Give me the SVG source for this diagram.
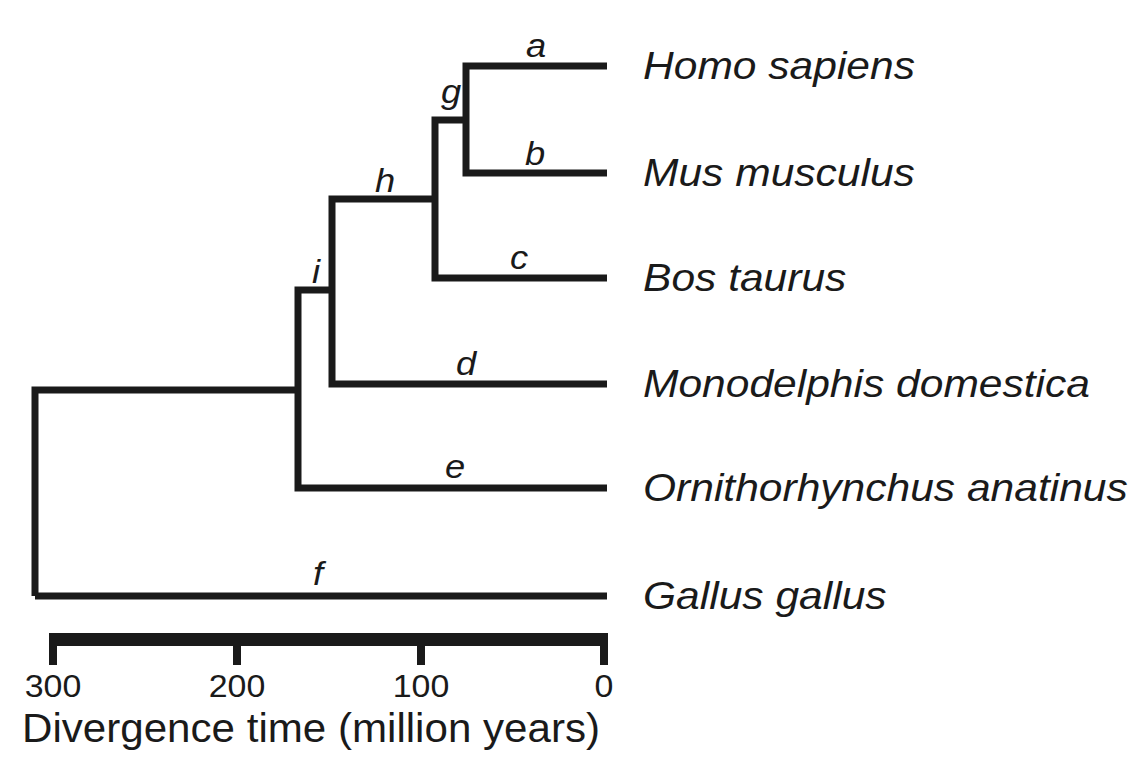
<svg xmlns="http://www.w3.org/2000/svg" width="1136" height="760" viewBox="0 0 1136 760">
  <style>
    .tree { fill: none; stroke: #1a1a1a; stroke-width: 7; stroke-linejoin: miter; stroke-linecap: butt; }
    .sp { font-family: "Liberation Sans", Arial, sans-serif; font-style: italic; font-size: 38px; fill: #1a1a1a; }
    .bl { font-family: "Liberation Sans", Arial, sans-serif; font-style: italic; font-size: 33px; fill: #1a1a1a; text-anchor: middle; }
    .tick { font-family: "Liberation Sans", Arial, sans-serif; font-size: 32px; fill: #1a1a1a; text-anchor: middle; }
    .title { font-family: "Liberation Sans", Arial, sans-serif; font-size: 40px; fill: #1a1a1a; }
    .ax { fill: #1a1a1a; }
  </style>
  <rect x="0" y="0" width="1136" height="760" fill="#ffffff"/>

  <g id="connectors">
    <path class="tree" d="M35,596 H607"/>
    <path class="tree" d="M35,596 V390 H298"/>
    <path class="tree" d="M607,488 H298 V290 H332"/>
    <path class="tree" d="M607,384 H332 V199 H435"/>
    <path class="tree" d="M607,278 H435 V120 H466"/>
    <path class="tree" d="M607,173 H466 V66 H607"/>
  </g>

  <g id="branch-labels">
    <g id="label-a"><text class="bl" transform="translate(536,57) scale(1.1,1)">a</text></g>
    <g id="label-b"><text class="bl" transform="translate(535,165) scale(1.1,1)">b</text></g>
    <g id="label-c"><text class="bl" transform="translate(519,269) scale(1.1,1)">c</text></g>
    <g id="label-d"><text class="bl" transform="translate(466,375) scale(1.1,1)">d</text></g>
    <g id="label-e"><text class="bl" transform="translate(455,478) scale(1.1,1)">e</text></g>
    <g id="label-f"><text class="bl" transform="translate(318,585) scale(1.1,1)">f</text></g>
    <g id="label-g"><text class="bl" transform="translate(451,103) scale(1.1,1)">g</text></g>
    <g id="label-h"><text class="bl" transform="translate(385,192) scale(1.1,1)">h</text></g>
    <g id="label-i"><text class="bl" transform="translate(316,283) scale(1.1,1)">i</text></g>
  </g>

  <g id="taxon-homo"><text class="sp" transform="translate(643,79) scale(1.12,1)">Homo sapiens</text></g>
  <g id="taxon-mus"><text class="sp" transform="translate(643,186) scale(1.12,1)">Mus musculus</text></g>
  <g id="taxon-bos"><text class="sp" transform="translate(643,291) scale(1.12,1)">Bos taurus</text></g>
  <g id="taxon-monodelphis"><text class="sp" transform="translate(643,397) scale(1.12,1)">Monodelphis domestica</text></g>
  <g id="taxon-ornithorhynchus"><text class="sp" transform="translate(643,501) scale(1.12,1)">Ornithorhynchus anatinus</text></g>
  <g id="taxon-gallus"><text class="sp" transform="translate(643,609) scale(1.12,1)">Gallus gallus</text></g>

  <g id="axis">
    <rect class="ax" x="49" y="633" width="559" height="13"/>
    <rect class="ax" x="49" y="640" width="8" height="25"/>
    <rect class="ax" x="233" y="640" width="8" height="25"/>
    <rect class="ax" x="417" y="640" width="8" height="25"/>
    <rect class="ax" x="600" y="640" width="8" height="25"/>
    <text class="tick" transform="translate(53,697) scale(1.06,1)">300</text>
    <text class="tick" transform="translate(237,697) scale(1.06,1)">200</text>
    <text class="tick" transform="translate(421,697) scale(1.06,1)">100</text>
    <text class="tick" transform="translate(604,697) scale(1.06,1)">0</text>
    <text class="title" transform="translate(22,742) scale(1.053,1)">Divergence time (million years)</text>
  </g>
</svg>
